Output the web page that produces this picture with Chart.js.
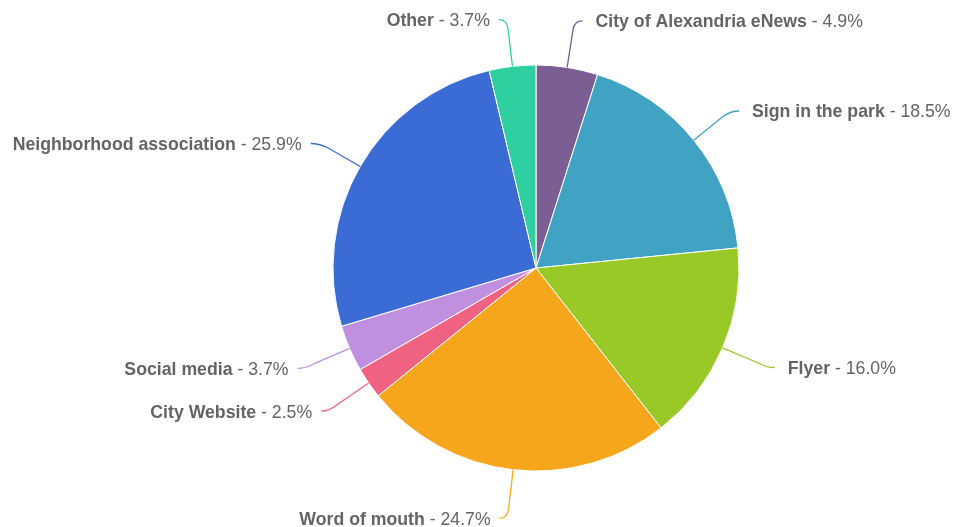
<!DOCTYPE html>
<html>
<head>
<meta charset="utf-8">
<script src="https://cdn.jsdelivr.net/npm/chart.js@4"></script>
<style>
  html, body { margin: 0; padding: 0; background: #ffffff; }
  #wrap { width: 953px; height: 527px; }
</style>
</head>
<body>
<div id="wrap"><canvas id="c" width="953" height="527"></canvas></div>
<script>
const categories = [
  'City of Alexandria eNews',
  'Sign in the park',
  'Flyer',
  'Word of mouth',
  'City Website',
  'Social media',
  'Neighborhood association',
  'Other'
];
const values = [4.9, 18.5, 16.0, 24.7, 2.5, 3.7, 25.9, 3.7];
const colors = ['#7b5e93', '#40a3c4', '#98c927', '#f5a61a', '#f06282', '#c08fe0', '#3b6cd5', '#2fd09f'];

const FONT = 'Liberation Sans, Arial, Helvetica, sans-serif';
const FONT_SIZE = 17.7;

const labelPlugin = {
  id: 'pieLabels',
  afterDatasetsDraw(chart) {
    const ctx = chart.ctx;
    const meta = chart.getDatasetMeta(0);
    meta.data.forEach((arc, i) => {
      const p = arc.getProps(['x', 'y', 'startAngle', 'endAngle', 'outerRadius'], true);
      const a = (p.startAngle + p.endAngle) / 2;
      const cos = Math.cos(a), sin = Math.sin(a);
      const r = p.outerRadius;
      const side = cos >= 0 ? 1 : -1;
      const labelR = r + 48, breakR = r + 38;
      const tx = p.x + r * cos, ty = p.y + r * sin;
      const bx = p.x + breakR * cos, by = p.y + breakR * sin;
      const cx = p.x + labelR * cos, cy = p.y + labelR * sin + 1;
      const ex = cx + side * 8, ey = cy;

      ctx.save();
      ctx.strokeStyle = colors[i];
      ctx.lineWidth = 1.3;
      ctx.beginPath();
      ctx.moveTo(tx, ty);
      ctx.lineTo(bx, by);
      ctx.quadraticCurveTo(cx, cy, ex, ey);
      ctx.stroke();

      const name = categories[i];
      const rest = ' - ' + values[i].toFixed(1) + '%';
      ctx.fillStyle = '#646464';
      ctx.textBaseline = 'middle';
      ctx.textAlign = 'left';
      ctx.font = 'bold ' + FONT_SIZE + 'px ' + FONT;
      const w1 = ctx.measureText(name).width;
      ctx.font = FONT_SIZE + 'px ' + FONT;
      const w2 = ctx.measureText(rest).width;
      const x0 = side > 0 ? ex + 13 : ex - 9 - w1 - w2;
      const yT = ey + 1.5;
      ctx.font = 'bold ' + FONT_SIZE + 'px ' + FONT;
      ctx.fillText(name, x0, yT);
      ctx.font = FONT_SIZE + 'px ' + FONT;
      ctx.fillText(rest, x0 + w1, yT);
      ctx.restore();
    });
  }
};

new Chart(document.getElementById('c'), {
  type: 'pie',
  data: {
    labels: categories,
    datasets: [{
      data: values,
      backgroundColor: colors,
      borderColor: '#ffffff',
      borderWidth: 1
    }]
  },
  options: {
    responsive: false,
    animation: false,
    radius: 203,
    layout: { padding: { left: 333, right: 214, top: 65, bottom: 56 } },
    plugins: {
      legend: { display: false },
      tooltip: { enabled: false }
    }
  },
  plugins: [labelPlugin]
});
</script>
</body>
</html>
